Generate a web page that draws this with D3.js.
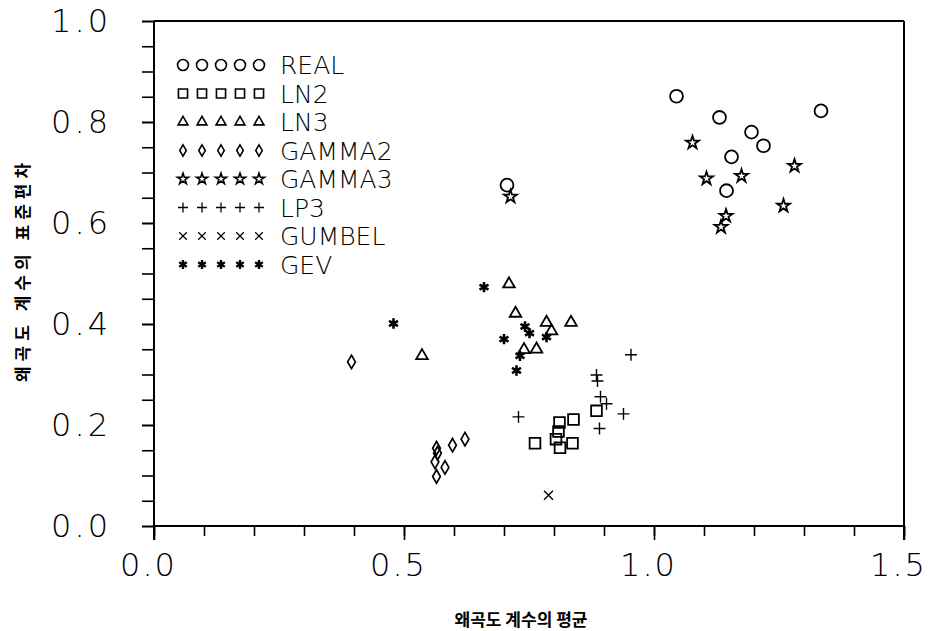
<!DOCTYPE html>
<html>
<head>
<meta charset="utf-8">
<script src="https://cdn.jsdelivr.net/npm/d3@7"></script>
<style>
  body { margin: 0; background: #fff; }
  .tick text { font-family: 'DejaVu Sans', sans-serif; font-weight: 200; }
</style>
</head>
<body>
<svg width="931" height="631"></svg>
<script>
// series values (x = mean skewness, y = std of skewness)
var seriesNames = ['REAL', 'LN2', 'LN3', 'GAMMA2', 'GAMMA3', 'LP3', 'GUMBEL', 'GEV'];

var realX = [1.045, 1.131, 1.195, 1.219, 1.155, 1.145, 1.334, 0.706];
var realY = [0.851, 0.809, 0.780, 0.753, 0.731, 0.664, 0.822, 0.675];

var ln2X = [0.885, 0.839, 0.811, 0.809, 0.804, 0.762, 0.812, 0.837];
var ln2Y = [0.228, 0.211, 0.205, 0.187, 0.172, 0.164, 0.155, 0.164];

var ln3X = [0.710, 0.723, 0.785, 0.834, 0.795, 0.740, 0.765, 0.536];
var ln3Y = [0.479, 0.421, 0.403, 0.403, 0.386, 0.349, 0.350, 0.337];

var gamma2X = [0.395, 0.622, 0.597, 0.565, 0.567, 0.562, 0.582, 0.565];
var gamma2Y = [0.325, 0.172, 0.160, 0.154, 0.144, 0.127, 0.116, 0.098];

var gamma3X = [1.077, 1.105, 1.175, 1.281, 1.259, 1.144, 1.134, 0.713];
var gamma3Y = [0.759, 0.688, 0.693, 0.713, 0.634, 0.614, 0.592, 0.652];

var lp3X = [0.954, 0.885, 0.887, 0.893, 0.905, 0.939, 0.729, 0.891];
var lp3Y = [0.339, 0.299, 0.287, 0.256, 0.242, 0.222, 0.216, 0.193];

var gumbelX = [0.789];
var gumbelY = [0.061];

var gevX = [0.660, 0.479, 0.742, 0.751, 0.700, 0.785, 0.732, 0.725];
var gevY = [0.473, 0.401, 0.395, 0.382, 0.370, 0.374, 0.337, 0.308];

var xTickLabels = ['0.0', '0.5', '1.0', '1.5'];
var yTickLabels = ['0.0', '0.2', '0.4', '0.6', '0.8', '1.0'];

var xTitle = '왜곡도 계수의 평균';
var yTitle = '왜곡도 계수의 표준편차';

var svg = d3.select('svg');
var W = +svg.attr('width'), H = +svg.attr('height');
svg.append('rect').attr('width', W).attr('height', H).attr('fill', '#fff');

var x = d3.scaleLinear().domain([0, 1.5]).range([154, 904]);
var y = d3.scaleLinear().domain([0, 1]).range([526, 21]);

// symbol for each series: [d3 symbol, size, stroke width]
var shapes = {
    REAL:   [d3.symbolCircle, 130, 1.8],
    LN2:    [d3.symbolSquare, 115, 1.8],
    LN3:    [d3.symbolTriangle, 58, 1.8],
    GAMMA2: [d3.symbolDiamond, 52, 1.7],
    GAMMA3: [d3.symbolStar, 52, 1.8],
    LP3:    [d3.symbolPlus, 48, 1.4],
    GUMBEL: [d3.symbolTimes, 54, 1.4],
    GEV:    [d3.symbolAsterisk, 75, 2.6]
};

var seriesData = {
    REAL: [realX, realY], LN2: [ln2X, ln2Y], LN3: [ln3X, ln3Y],
    GAMMA2: [gamma2X, gamma2Y], GAMMA3: [gamma3X, gamma3Y],
    LP3: [lp3X, lp3Y], GUMBEL: [gumbelX, gumbelY], GEV: [gevX, gevY]
};

// axes: minor ticks, then labelled major ticks
var xMinor = d3.range(0, 1.51, 0.1);
svg.append('g')
    .attr('transform', 'translate(0,' + y(0) + ')')
    .call(d3.axisBottom(x).tickValues(xMinor).tickSize(10).tickFormat('').tickSizeOuter(0))
    .call(function (g) { g.select('.domain').remove(); });

svg.append('g')
    .attr('transform', 'translate(0,' + y(0) + ')')
    .call(d3.axisBottom(x).tickValues(xTickLabels.map(Number)).tickSize(14).tickPadding(13)
        .tickFormat(function (d, i) { return xTickLabels[i]; }).tickSizeOuter(0))
    .call(function (g) {
        g.select('.domain').remove();
        g.selectAll('text').attr('font-size', 32).attr('letter-spacing', 2)
            .attr('dx', -6).attr('fill', '#000');
    });

svg.append('g')
    .attr('transform', 'translate(' + x(0) + ',0)')
    .call(d3.axisLeft(y).tickValues(d3.range(0, 1.001, 0.05)).tickSize(12).tickFormat('').tickSizeOuter(0))
    .call(function (g) { g.select('.domain').remove(); });

svg.append('g')
    .attr('transform', 'translate(' + x(0) + ',0)')
    .call(d3.axisLeft(y).tickValues(yTickLabels.map(Number)).tickSize(12).tickPadding(31)
        .tickFormat(function (d, i) { return yTickLabels[i]; }).tickSizeOuter(0))
    .call(function (g) {
        g.select('.domain').remove();
        g.selectAll('text').attr('font-size', 32).attr('letter-spacing', 3).attr('fill', '#000');
    });

svg.selectAll('.tick line').attr('stroke', '#000').attr('stroke-width', 1.6);

// frame
var frame = svg.append('g').attr('stroke', '#000').attr('stroke-width', 2).attr('fill', 'none');
frame.append('line').attr('x1', x(0)).attr('x2', x(1.5)).attr('y1', y(1)).attr('y2', y(1));
frame.append('line').attr('x1', x(0)).attr('x2', x(1.5)).attr('y1', y(0)).attr('y2', y(0));
frame.append('line').attr('x1', x(0)).attr('x2', x(0)).attr('y1', y(1)).attr('y2', y(0) + 14);
frame.append('line').attr('x1', x(1.5)).attr('x2', x(1.5)).attr('y1', y(1)).attr('y2', y(0) + 14);

function symbolPath(name, scale) {
    var s = shapes[name];
    return d3.symbol().type(s[0]).size(s[1] * scale * scale)();
}

// points
seriesNames.forEach(function (name) {
    var xs = seriesData[name][0], ys = seriesData[name][1];
    svg.append('g').selectAll('path')
        .data(d3.range(xs.length))
        .enter().append('path')
        .attr('d', symbolPath(name, 1))
        .attr('transform', function (i) { return 'translate(' + x(xs[i]) + ',' + y(ys[i]) + ')'; })
        .attr('fill', 'none')
        .attr('stroke', '#000')
        .attr('stroke-width', shapes[name][2]);
});

// legend
var legend = svg.append('g').attr('transform', 'translate(183,65)');
seriesNames.forEach(function (name, r) {
    var row = legend.append('g').attr('transform', 'translate(0,' + (r * 28.5) + ')');
    d3.range(5).forEach(function (k) {
        row.append('path')
            .attr('d', symbolPath(name, 0.85))
            .attr('transform', 'translate(' + (k * 19) + ',0)')
            .attr('fill', 'none')
            .attr('stroke', '#000')
            .attr('stroke-width', shapes[name][2] * 0.9);
    });
    row.append('text')
        .attr('x', 97)
        .attr('y', 0)
        .attr('dy', '0.36em')
        .attr('font-family', "'DejaVu Sans', sans-serif")
        .attr('font-weight', 200)
        .attr('font-size', 25)
        .text(name);
});

// titles
svg.append('text')
    .attr('x', 521).attr('y', 626)
    .attr('text-anchor', 'middle')
    .attr('font-family', "'Noto Sans CJK KR', sans-serif")
    .attr('font-weight', 700)
    .attr('font-size', 17)
    .text(xTitle);

svg.append('text')
    .attr('transform', 'translate(29,270) rotate(-90)')
    .attr('text-anchor', 'middle')
    .attr('font-family', "'Noto Sans CJK KR', sans-serif")
    .attr('font-weight', 700)
    .attr('font-size', 17)
    .attr('letter-spacing', 5)
    .text(yTitle);
</script>
</body>
</html>
